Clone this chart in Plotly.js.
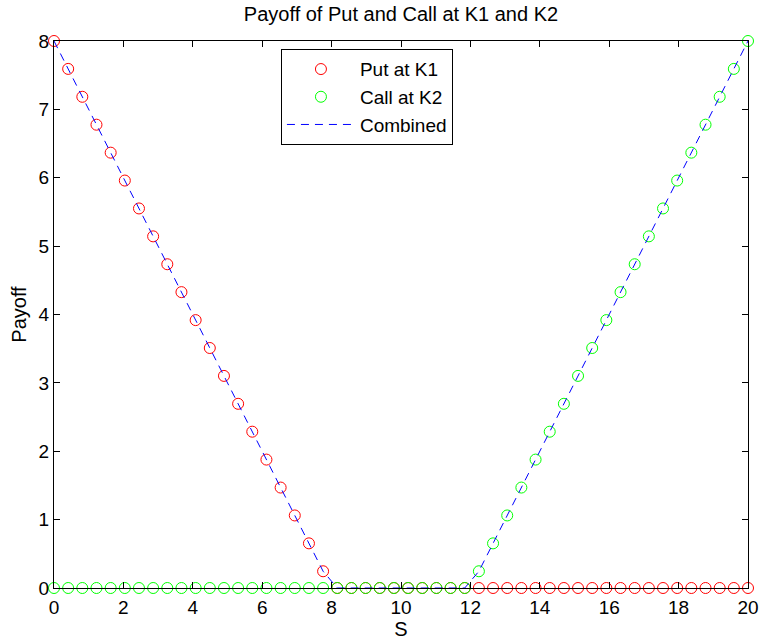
<!DOCTYPE html>
<html>
<head>
<meta charset="utf-8">
<script src="https://cdn.plot.ly/plotly-3.0.1.min.js"></script>
<style>html,body{margin:0;padding:0;background:#fff;}#chart{width:760px;height:644px;}</style>
</head>
<body>
<div id="chart"></div>
<script>
const S = [0, 0.408, 0.816, 1.224, 1.633, 2.041, 2.449, 2.857, 3.265, 3.673,
  4.082, 4.490, 4.898, 5.306, 5.714, 6.122, 6.531, 6.939, 7.347, 7.755,
  8.163, 8.571, 8.980, 9.388, 9.796, 10.204, 10.612, 11.020, 11.429, 11.837,
  12.245, 12.653, 13.061, 13.469, 13.878, 14.286, 14.694, 15.102, 15.510, 15.918,
  16.327, 16.735, 17.143, 17.551, 17.959, 18.367, 18.776, 19.184, 19.592, 20];
const putK1 = [8, 7.592, 7.184, 6.776, 6.367, 5.959, 5.551, 5.143, 4.735, 4.327,
  3.918, 3.510, 3.102, 2.694, 2.286, 1.878, 1.469, 1.061, 0.653, 0.245,
  0, 0, 0, 0, 0, 0, 0, 0, 0, 0,
  0, 0, 0, 0, 0, 0, 0, 0, 0, 0,
  0, 0, 0, 0, 0, 0, 0, 0, 0, 0];
const callK2 = [0, 0, 0, 0, 0, 0, 0, 0, 0, 0,
  0, 0, 0, 0, 0, 0, 0, 0, 0, 0,
  0, 0, 0, 0, 0, 0, 0, 0, 0, 0,
  0.245, 0.653, 1.061, 1.469, 1.878, 2.286, 2.694, 3.102, 3.510, 3.918,
  4.327, 4.735, 5.143, 5.551, 5.959, 6.367, 6.776, 7.184, 7.592, 8];
const combined = [8, 7.592, 7.184, 6.776, 6.367, 5.959, 5.551, 5.143, 4.735, 4.327,
  3.918, 3.510, 3.102, 2.694, 2.286, 1.878, 1.469, 1.061, 0.653, 0.245,
  0, 0, 0, 0, 0, 0, 0, 0, 0, 0,
  0.245, 0.653, 1.061, 1.469, 1.878, 2.286, 2.694, 3.102, 3.510, 3.918,
  4.327, 4.735, 5.143, 5.551, 5.959, 6.367, 6.776, 7.184, 7.592, 8];
const seriesNames = ['Put at K1', 'Call at K2', 'Combined'];
const titleText = 'Payoff of Put and Call at K1 and K2';
const xLabel = 'S';
const yLabel = 'Payoff';

const FONT = 'Liberation Sans, Arial, Helvetica, sans-serif';

const traces = [
  {x: S, y: putK1, name: seriesNames[0], type: 'scatter', mode: 'markers', cliponaxis: false,
   marker: {symbol: 'circle-open', size: 11, color: '#ff0000', line: {width: 1, color: '#ff0000'}}},
  {x: S, y: callK2, name: seriesNames[1], type: 'scatter', mode: 'markers', cliponaxis: false,
   marker: {symbol: 'circle-open', size: 11, color: '#00ff00', line: {width: 1, color: '#00ff00'}}},
  {x: S, y: combined, name: seriesNames[2], type: 'scatter', mode: 'lines', cliponaxis: false,
   line: {color: '#0000ff', width: 1, dash: '8px,6px'}}
];

const axisCommon = {
  showline: true, linecolor: '#000', linewidth: 1, mirror: 'ticks',
  ticks: 'inside', ticklen: 6, tickwidth: 1, tickcolor: '#000',
  showgrid: false, zeroline: false, automargin: false,
  tickfont: {family: FONT, size: 19, color: '#000'}
};

const layout = {
  width: 760, height: 644,
  paper_bgcolor: '#fff', plot_bgcolor: '#fff',
  margin: {l: 54, r: 12, t: 41, b: 56},
  title: {text: titleText, font: {family: FONT, size: 20, color: '#000'},
          x: 0.5, xref: 'paper', xanchor: 'center', y: 0.978, yref: 'container', yanchor: 'middle'},
  xaxis: Object.assign({}, axisCommon, {range: [0, 20], dtick: 2, tick0: 0, ticklabelstandoff: 2,
    title: {text: xLabel, font: {family: FONT, size: 20, color: '#000'}, standoff: 1}}),
  yaxis: Object.assign({}, axisCommon, {range: [0, 8], dtick: 1, tick0: 0,
    title: {text: yLabel, font: {family: FONT, size: 20, color: '#000'}, standoff: 6}}),
  showlegend: true,
  legend: {x: 0.327, y: 0.985, xanchor: 'left', yanchor: 'top',
    bgcolor: '#fff', bordercolor: '#000', borderwidth: 1,
    font: {family: FONT, size: 19, color: '#000'}, itemwidth: 68}
};

Plotly.newPlot('chart', traces, layout, {displayModeBar: false, staticPlot: true});
</script>
</body>
</html>
